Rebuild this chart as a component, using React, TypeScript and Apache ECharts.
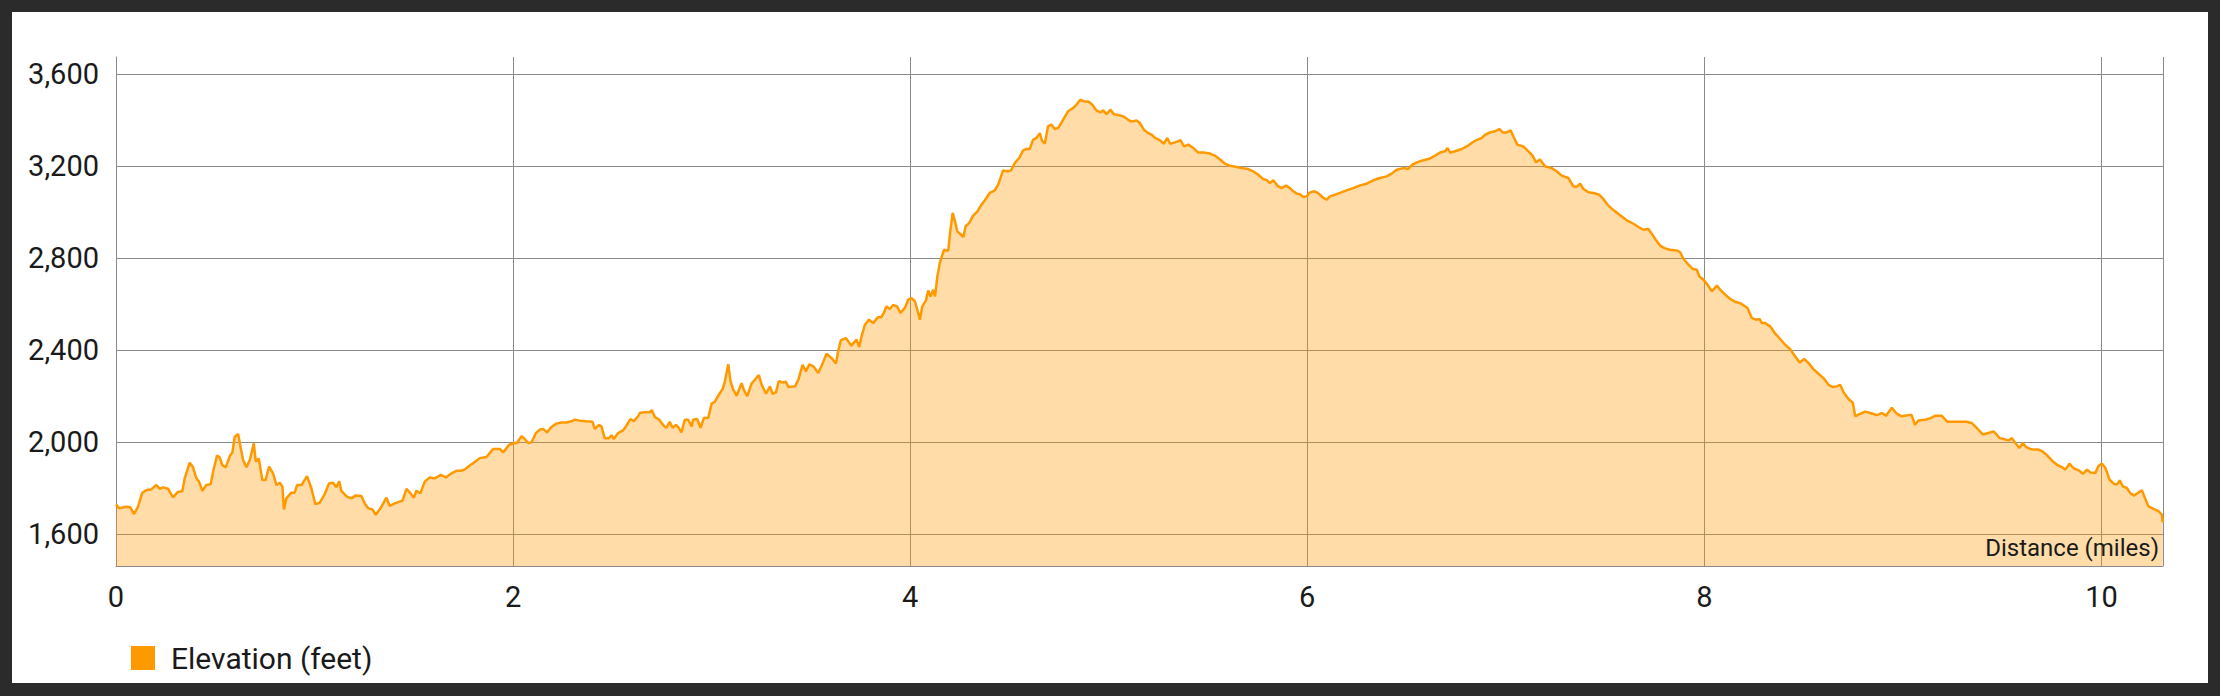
import React, { useEffect, useRef } from "react";
import * as echarts from "echarts";

const distanceMiles = [
  0.0, 0.016, 0.052, 0.072, 0.091, 0.111, 0.131, 0.153, 0.178, 0.203, 0.22, 0.237, 0.262, 0.287, 0.312, 0.334, 0.346, 0.371, 0.388, 0.405,
  0.418, 0.435, 0.455, 0.477, 0.489, 0.509, 0.522, 0.536, 0.553, 0.573, 0.586, 0.598, 0.615, 0.627, 0.64, 0.657, 0.674, 0.694, 0.704, 0.719,
  0.737, 0.754, 0.771, 0.791, 0.808, 0.825, 0.838, 0.846, 0.858, 0.883, 0.9, 0.912, 0.934, 0.962, 0.984, 1.004, 1.026, 1.051, 1.073, 1.093,
  1.11, 1.124, 1.135, 1.164, 1.186, 1.207, 1.236, 1.253, 1.27, 1.291, 1.308, 1.332, 1.362, 1.379, 1.404, 1.429, 1.443, 1.463, 1.48, 1.5,
  1.513, 1.533, 1.555, 1.58, 1.605, 1.636, 1.661, 1.69, 1.714, 1.74, 1.757, 1.778, 1.805, 1.832, 1.866, 1.899, 1.933, 1.95, 1.98, 2.009,
  2.02, 2.042, 2.059, 2.076, 2.093, 2.115, 2.134, 2.151, 2.171, 2.193, 2.218, 2.243, 2.269, 2.294, 2.311, 2.336, 2.369, 2.4, 2.411, 2.433,
  2.445, 2.462, 2.483, 2.495, 2.507, 2.529, 2.554, 2.571, 2.591, 2.608, 2.63, 2.638, 2.664, 2.685, 2.699, 2.714, 2.736, 2.759, 2.773, 2.789,
  2.803, 2.82, 2.832, 2.848, 2.865, 2.882, 2.899, 2.907, 2.927, 2.944, 2.961, 2.983, 3.0, 3.016, 3.033, 3.055, 3.067, 3.075, 3.084, 3.095,
  3.109, 3.126, 3.151, 3.163, 3.179, 3.201, 3.218, 3.238, 3.252, 3.274, 3.294, 3.307, 3.324, 3.338, 3.358, 3.374, 3.386, 3.42, 3.437, 3.458,
  3.475, 3.492, 3.512, 3.537, 3.554, 3.579, 3.604, 3.626, 3.637, 3.651, 3.676, 3.704, 3.73, 3.743, 3.755, 3.772, 3.793, 3.813, 3.838, 3.855,
  3.867, 3.881, 3.897, 3.914, 3.934, 3.951, 3.973, 3.99, 4.007, 4.024, 4.035, 4.049, 4.061, 4.079, 4.091, 4.103, 4.116, 4.125, 4.137, 4.15,
  4.164, 4.17, 4.184, 4.192, 4.201, 4.214, 4.226, 4.237, 4.251, 4.268, 4.279, 4.297, 4.317, 4.339, 4.359, 4.376, 4.401, 4.426, 4.443, 4.468,
  4.488, 4.507, 4.527, 4.549, 4.569, 4.586, 4.602, 4.619, 4.636, 4.653, 4.664, 4.678, 4.694, 4.711, 4.728, 4.745, 4.77, 4.795, 4.82, 4.837,
  4.857, 4.874, 4.901, 4.918, 4.938, 4.958, 4.972, 4.989, 5.009, 5.026, 5.048, 5.073, 5.098, 5.115, 5.14, 5.157, 5.177, 5.199, 5.216, 5.233,
  5.255, 5.278, 5.295, 5.309, 5.334, 5.362, 5.379, 5.401, 5.426, 5.451, 5.477, 5.51, 5.535, 5.561, 5.586, 5.611, 5.644, 5.678, 5.703, 5.728,
  5.753, 5.778, 5.798, 5.812, 5.829, 5.849, 5.871, 5.893, 5.913, 5.93, 5.947, 5.963, 5.98, 5.997, 6.01, 6.031, 6.047, 6.064, 6.081, 6.098,
  6.114, 6.14, 6.165, 6.198, 6.232, 6.266, 6.299, 6.333, 6.366, 6.4, 6.425, 6.45, 6.484, 6.509, 6.526, 6.551, 6.585, 6.619, 6.644, 6.669,
  6.694, 6.706, 6.719, 6.745, 6.778, 6.803, 6.828, 6.854, 6.879, 6.896, 6.92, 6.946, 6.967, 6.984, 7.004, 7.024, 7.04, 7.058, 7.088, 7.114,
  7.135, 7.152, 7.172, 7.197, 7.231, 7.256, 7.282, 7.315, 7.34, 7.357, 7.374, 7.391, 7.416, 7.441, 7.471, 7.491, 7.516, 7.55, 7.584, 7.609,
  7.643, 7.668, 7.693, 7.718, 7.735, 7.752, 7.777, 7.802, 7.827, 7.861, 7.878, 7.895, 7.92, 7.942, 7.962, 7.975, 7.996, 8.016, 8.038, 8.063,
  8.083, 8.105, 8.13, 8.155, 8.184, 8.217, 8.239, 8.261, 8.278, 8.29, 8.306, 8.331, 8.357, 8.382, 8.407, 8.432, 8.458, 8.48, 8.503, 8.525,
  8.549, 8.575, 8.6, 8.625, 8.647, 8.667, 8.684, 8.701, 8.726, 8.748, 8.76, 8.785, 8.81, 8.835, 8.869, 8.894, 8.915, 8.944, 8.969, 8.994,
  9.028, 9.044, 9.061, 9.078, 9.112, 9.137, 9.162, 9.196, 9.224, 9.254, 9.288, 9.321, 9.346, 9.372, 9.402, 9.431, 9.456, 9.473, 9.486, 9.507,
  9.532, 9.549, 9.566, 9.587, 9.604, 9.621, 9.641, 9.658, 9.683, 9.705, 9.725, 9.75, 9.776, 9.801, 9.818, 9.839, 9.86, 9.885, 9.907, 9.927,
  9.944, 9.969, 9.986, 10.003, 10.02, 10.041, 10.062, 10.078, 10.092, 10.108, 10.128, 10.145, 10.165, 10.187, 10.204, 10.221, 10.237, 10.262, 10.288, 10.304,
  10.309,
];

const elevationFeet = [
  1729, 1712, 1719, 1716, 1687, 1719, 1777, 1791, 1794, 1813, 1797, 1803, 1797, 1759, 1783, 1786, 1842, 1910, 1890, 1842,
  1828, 1788, 1813, 1817, 1871, 1942, 1933, 1899, 1890, 1939, 1954, 2023, 2035, 1980, 1922, 1890, 1922, 1994, 1915, 1929,
  1835, 1835, 1893, 1864, 1813, 1823, 1806, 1707, 1755, 1780, 1780, 1813, 1813, 1852, 1799, 1730, 1736, 1774, 1820, 1823,
  1803, 1829, 1788, 1762, 1755, 1768, 1765, 1733, 1712, 1707, 1684, 1712, 1758, 1722, 1733, 1741, 1745, 1796, 1780, 1758,
  1788, 1777, 1828, 1846, 1842, 1857, 1846, 1864, 1875, 1875, 1881, 1896, 1912, 1930, 1935, 1970, 1970, 1955, 1988, 1996,
  1996, 2025, 2013, 1996, 1999, 2039, 2054, 2057, 2042, 2065, 2080, 2085, 2085, 2090, 2097, 2093, 2090, 2088, 2057, 2074,
  2068, 2016, 2016, 2030, 2013, 2039, 2051, 2071, 2100, 2091, 2112, 2126, 2130, 2129, 2138, 2109, 2097, 2071, 2062, 2088,
  2062, 2074, 2065, 2042, 2097, 2097, 2068, 2097, 2100, 2062, 2104, 2106, 2167, 2175, 2201, 2230, 2264, 2300, 2338, 2264,
  2228, 2201, 2256, 2225, 2199, 2254, 2271, 2291, 2249, 2210, 2242, 2210, 2216, 2264, 2259, 2262, 2239, 2242, 2271, 2336,
  2307, 2338, 2329, 2300, 2332, 2384, 2365, 2341, 2394, 2442, 2452, 2419, 2445, 2413, 2459, 2510, 2532, 2517, 2543, 2543,
  2561, 2590, 2578, 2596, 2590, 2561, 2583, 2619, 2626, 2612, 2578, 2532, 2590, 2616, 2659, 2633, 2662, 2633, 2720, 2781,
  2819, 2836, 2833, 2833, 2909, 2996, 2959, 2916, 2906, 2891, 2938, 2952, 2984, 3003, 3032, 3051, 3083, 3094, 3119, 3181,
  3177, 3180, 3213, 3235, 3268, 3274, 3274, 3314, 3322, 3343, 3311, 3297, 3372, 3380, 3361, 3365, 3401, 3438, 3452, 3466,
  3488, 3482, 3479, 3466, 3442, 3433, 3442, 3426, 3445, 3425, 3422, 3416, 3401, 3393, 3398, 3387, 3358, 3343, 3336, 3322,
  3314, 3297, 3322, 3297, 3303, 3312, 3285, 3293, 3278, 3259, 3259, 3254, 3245, 3228, 3210, 3201, 3196, 3190, 3187, 3177,
  3162, 3143, 3138, 3126, 3138, 3115, 3104, 3115, 3104, 3090, 3080, 3077, 3065, 3068, 3083, 3090, 3086, 3075, 3061, 3054,
  3068, 3075, 3083, 3094, 3104, 3116, 3123, 3138, 3148, 3155, 3167, 3184, 3191, 3187, 3204, 3216, 3225, 3233, 3245, 3259,
  3264, 3278, 3259, 3264, 3274, 3285, 3300, 3314, 3322, 3336, 3346, 3351, 3361, 3346, 3346, 3355, 3325, 3293, 3285, 3264,
  3245, 3216, 3228, 3199, 3191, 3177, 3158, 3148, 3112, 3109, 3123, 3100, 3086, 3083, 3075, 3057, 3028, 3003, 2981, 2964,
  2949, 2935, 2923, 2926, 2906, 2883, 2854, 2842, 2836, 2833, 2825, 2796, 2771, 2752, 2749, 2720, 2706, 2684, 2655, 2680,
  2659, 2641, 2622, 2610, 2602, 2583, 2539, 2532, 2535, 2517, 2517, 2503, 2471, 2448, 2423, 2404, 2372, 2346, 2361, 2343,
  2317, 2297, 2278, 2249, 2239, 2242, 2249, 2216, 2187, 2170, 2112, 2123, 2132, 2126, 2117, 2126, 2114, 2149, 2123, 2112,
  2117, 2117, 2075, 2094, 2097, 2103, 2114, 2114, 2088, 2088, 2088, 2088, 2083, 2061, 2033, 2039, 2046, 2032, 2017, 2013,
  2007, 2017, 1996, 1974, 1996, 1978, 1970, 1967, 1967, 1958, 1943, 1920, 1901, 1891, 1880, 1906, 1886, 1877, 1862, 1880,
  1868, 1865, 1897, 1906, 1887, 1836, 1819, 1815, 1833, 1807, 1800, 1778, 1767, 1781, 1790, 1752, 1720, 1709, 1699, 1684,
  1651,
];

const xTickLabels = [0, 2, 4, 6, 8, 10];
const yTickLabels = [1600, 2000, 2400, 2800, 3200, 3600];
const seriesName = "Elevation (feet)";
const xAxisTitle = "Distance (miles)";

export default function App() {
  const ref = useRef<HTMLDivElement>(null);

  useEffect(() => {
    if (!ref.current) return;
    const chart = echarts.init(ref.current, null, { renderer: "svg" });
    const font = "Roboto";
    const gridColor = "#8a8a8a";
    const data = distanceMiles.map((d, i) => [d, elevationFeet[i]]);
    const xMax = 10.31;
    chart.setOption({
      animation: false,
      backgroundColor: "#ffffff",
      textStyle: { fontFamily: font },
      grid: { left: 104, top: 45, width: 2047, height: 509, containLabel: false },
      legend: {
        data: [seriesName],
        left: 119,
        top: 631,
        padding: 0,
        icon: "rect",
        itemWidth: 24,
        itemHeight: 24,
        textStyle: { fontSize: 30, color: "#1a1a1a", fontFamily: font, padding: [0, 0, 0, 11] },
      },
      xAxis: {
        type: "value",
        min: 0,
        max: xMax,
        axisLine: { show: true, lineStyle: { color: gridColor, width: 1 } },
        axisTick: { show: false, customValues: [...xTickLabels, xMax] },
        splitLine: { show: true, lineStyle: { color: gridColor, width: 1 } },
        axisLabel: {
          customValues: xTickLabels,
          fontSize: 29,
          color: "#1a1a1a",
          fontFamily: font,
          margin: 16,
        },
      },
      yAxis: {
        type: "value",
        min: 1461,
        max: 3674,
        axisLine: { show: true, lineStyle: { color: gridColor, width: 1 } },
        axisTick: { show: false, customValues: yTickLabels },
        splitLine: { show: true, lineStyle: { color: gridColor, width: 1 } },
        axisLabel: {
          customValues: yTickLabels,
          fontSize: 29,
          color: "#1a1a1a",
          fontFamily: font,
          margin: 17,
          formatter: (v: number) => v.toLocaleString("en-US"),
        },
      },
      graphic: [
        {
          type: "text",
          right: 2196 - 2147,
          top: 552 - 28,
          style: {
            text: xAxisTitle,
            fontSize: 24,
            fontFamily: font,
            fill: "#1a1a1a",
          },
          z: 100,
        },
      ],
      series: [
        {
          name: seriesName,
          type: "line",
          data,
          showSymbol: false,
          symbol: "none",
          itemStyle: { color: "#ff9900" },
          lineStyle: { color: "#ff9900", width: 2.5 },
          areaStyle: { color: "#ff9900", opacity: 0.34, origin: "start" },
        },
      ],
    });
    return () => chart.dispose();
  }, []);

  return (
    <div style={{ position: "absolute", left: 0, top: 0, width: 2220, height: 696, background: "#2b2b2b" }}>
      <div style={{ position: "absolute", left: 12, top: 12, width: 2196, height: 671, background: "#ffffff" }}>
        <div ref={ref} style={{ width: 2196, height: 671 }} />
      </div>
    </div>
  );
}
